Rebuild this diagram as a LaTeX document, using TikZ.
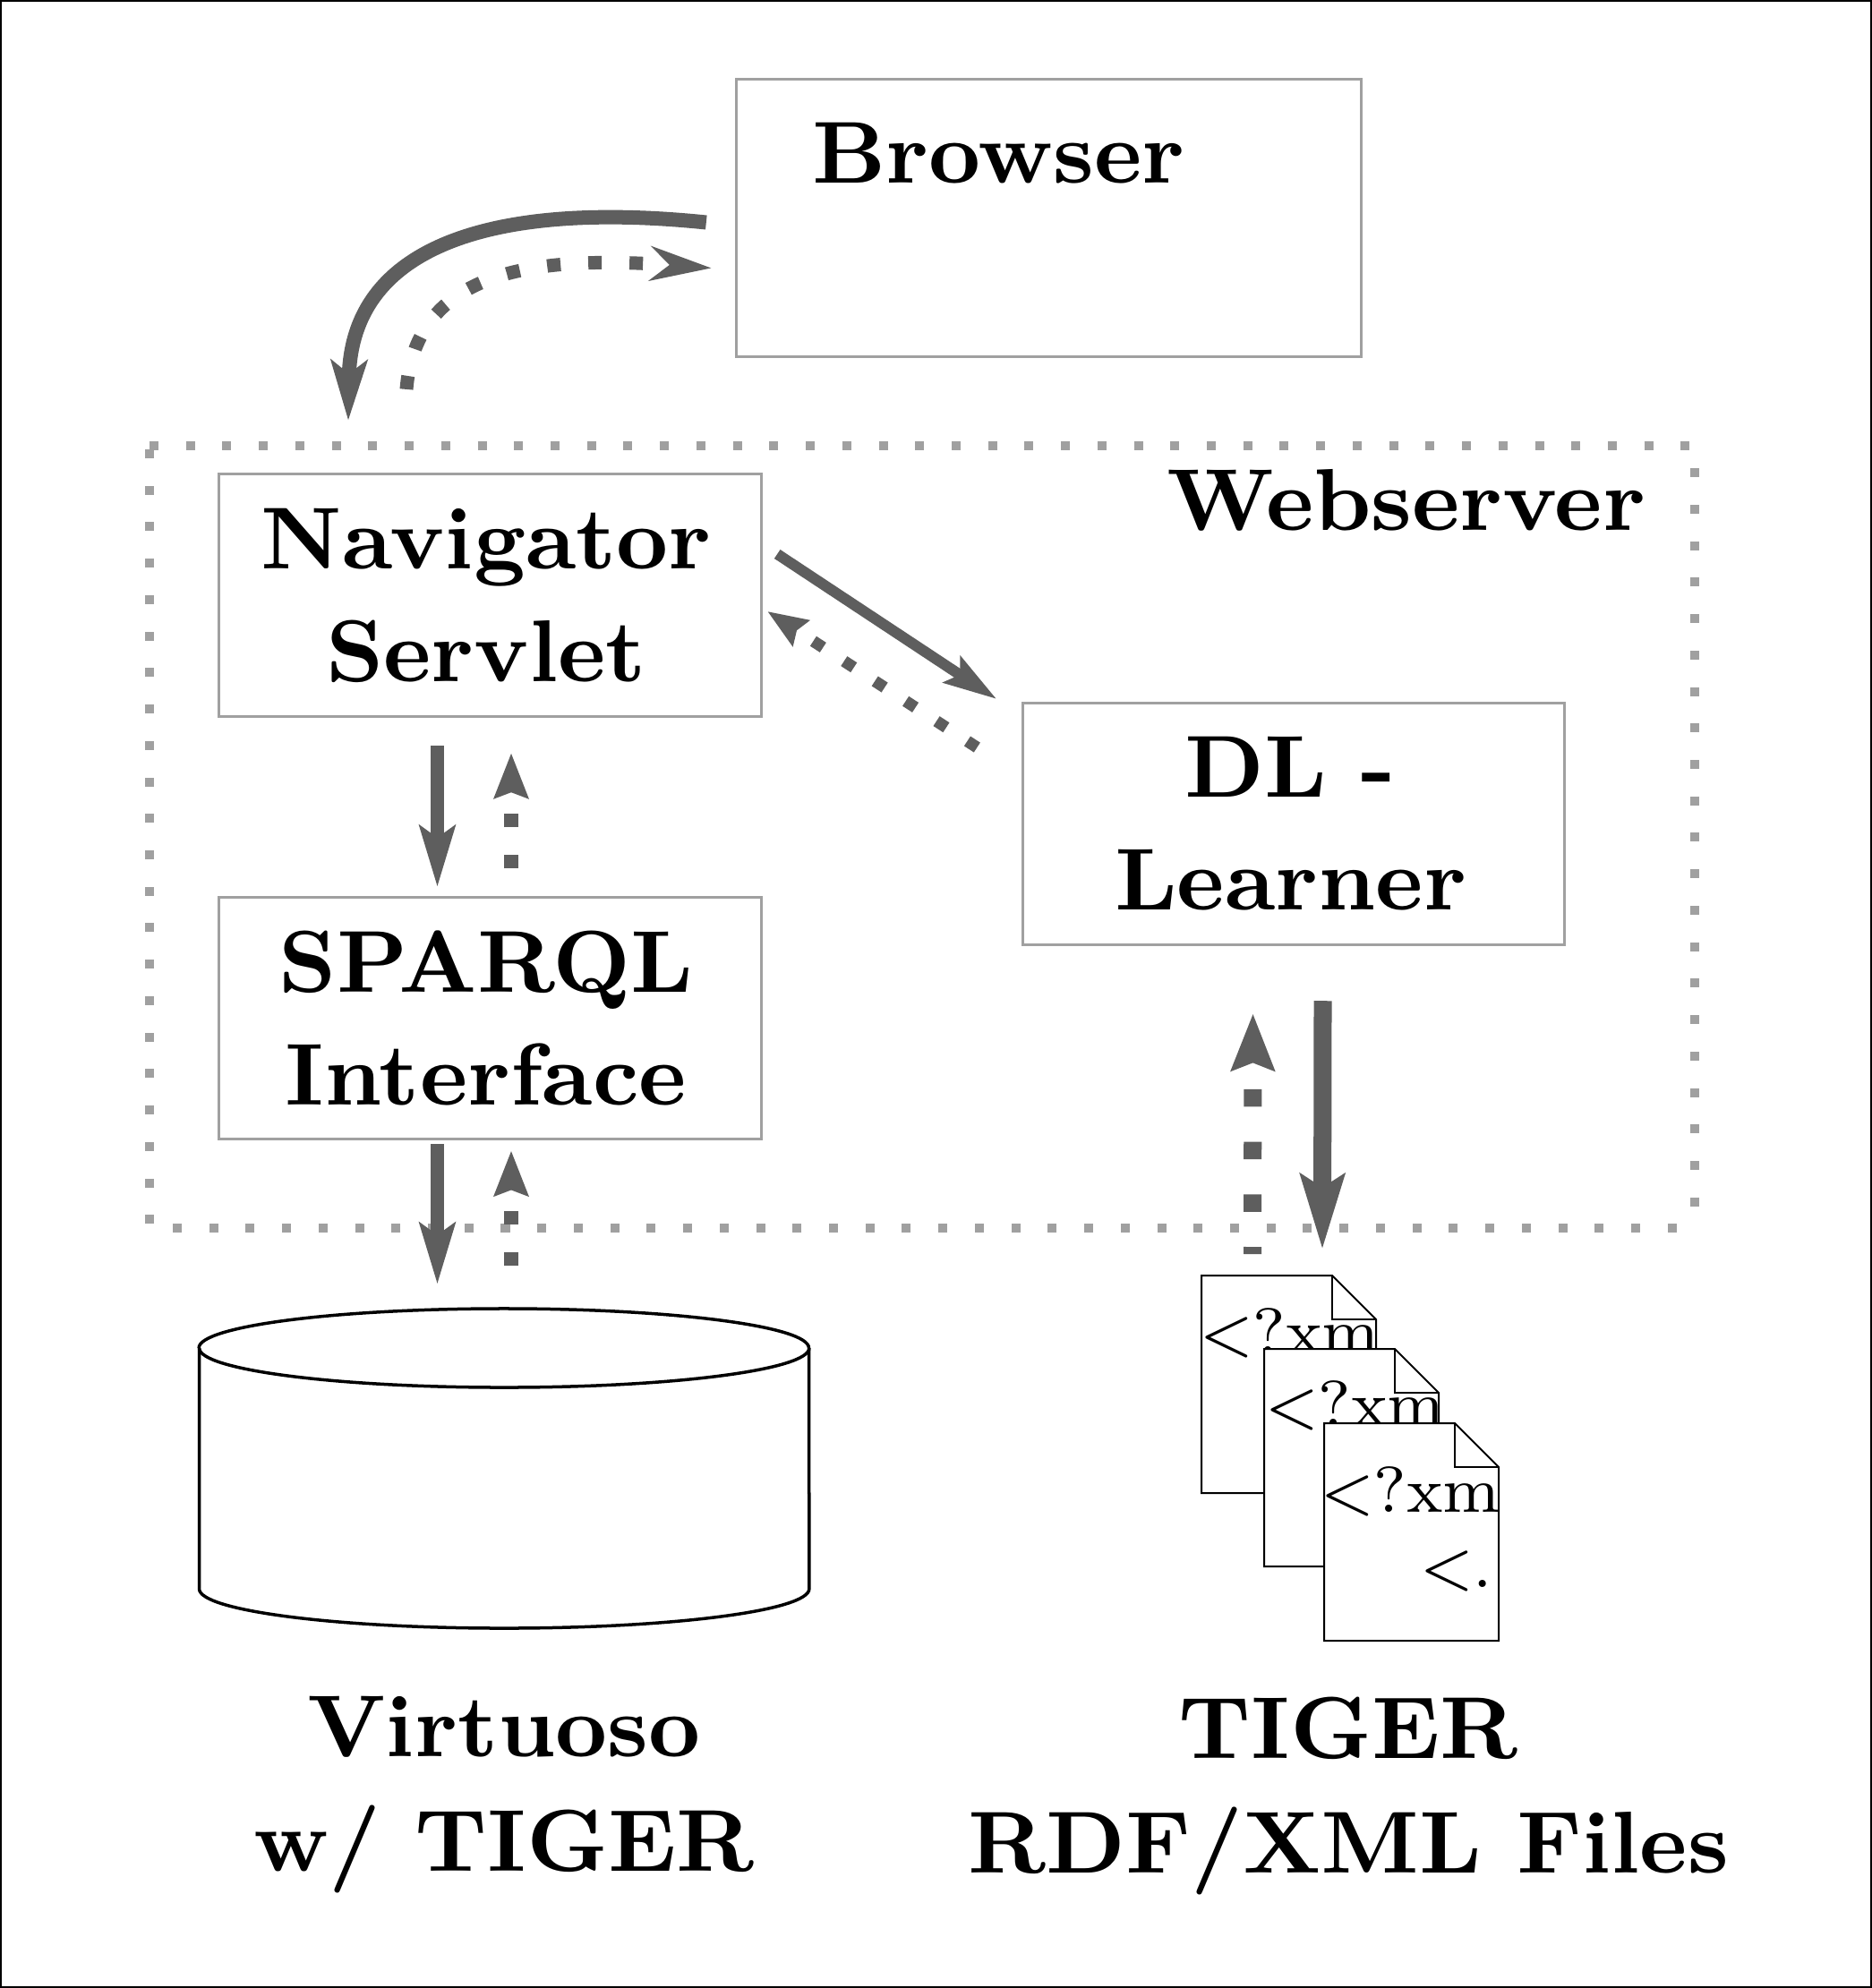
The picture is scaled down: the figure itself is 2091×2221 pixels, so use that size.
\documentclass[tikz,border=0pt]{standalone}
\usepackage{xcolor}
\usetikzlibrary{positioning}
\usetikzlibrary{arrows.meta}
\usetikzlibrary{calc}
\definecolor{boxgray}{HTML}{A0A0A0}
\definecolor{arrowgray}{HTML}{5E5E5E}

\begin{document}
\begin{tikzpicture}[x=0.01cm,y=-0.01cm,
    big label/.style={font=\fontsize{9}{11.55}\selectfont\bfseries,scale=3.1,align=center,inner sep=0pt,outer sep=0pt},
    main box/.style={rectangle,draw=boxgray,line width=0.03cm,inner sep=0pt,outer sep=0pt,minimum width=6.05cm,minimum height=2.7cm},
    small solid/.style={draw=arrowgray,line width=0.15cm,-{Stealth[length=0.68cm,width=0.39cm,inset=0.13cm]}},
    small dash/.style={draw=arrowgray,line width=0.16cm,dash pattern=on 0.15cm off 0.31cm,-{Stealth[length=0.5cm,width=0.37cm,inset=0.06cm]}},
    doc line/.style={draw=black,line width=0.02cm,fill=white},
    doc text/.style={font=\fontsize{8}{10}\selectfont,scale=2.57,inner sep=0pt,outer sep=0pt,anchor=base west}]
\useasboundingbox (0,0) rectangle (2091,2221);
\draw[black,line width=0.03cm] (0.5,0.5) rectangle (2090.5,2220.5);

\node[main box,minimum width=6.97cm,minimum height=3.1cm] (browser) at (1171.5,243.5) {};
\node[big label,anchor=base west] (browsertext) at (907,204) {Browser};

\node[main box] (nav) at (547.5,665) [label={[big label,xshift=-0.0145cm]center:Navigator\\Servlet}] {};
\node[main box] (sparql) [below=2.02cm of nav, label={[big label,xshift=-0.0145cm]center:SPARQL\\Interface}] {};
\node[main box] (dl) [right=2.92cm of nav, yshift=-2.55cm, label={[big label,xshift=-0.011cm]center:DL -\\Learner}] {};

% webserver frame
\coordinate (tl) at (167,498);
\coordinate (br) at (1893,1372);
\draw[boxgray,line width=0.1cm,dash pattern=on 0.1cm off 0.307cm] (tl) -| (br);
\draw[boxgray,line width=0.1cm,dash pattern=on 0.1cm off 0.307cm,dash phase=0.204cm] (br) -| (tl);
\node[big label,anchor=base east] (webserver) at (1838,592) {Webserver};

% database
\coordinate (dbtop) at (562.5,1462);
\draw[black,line width=0.035cm] (222.5,1506) -- (222.5,1775)
    arc[start angle=180,end angle=360,x radius=3.405cm,y radius=0.44cm] -- (903.5,1506)
    arc[start angle=0,end angle=180,x radius=3.405cm,y radius=0.44cm];
\draw[black,line width=0.035cm] (222.5,1506) arc[start angle=180,end angle=360,x radius=3.405cm,y radius=0.44cm];
\node[big label,anchor=base] (virtuoso) at (563,1962) {Virtuoso};
\node[big label,below=1.28cm of virtuoso.base,anchor=base] (wtiger) {w/ TIGER};

% xml files
\foreach \i/\x/\y/\tx/\ty in {1/1342/1425/-2/87, 2/1412/1507/1/86, 3/1479/1590/-4/99}
{
  \draw[doc line] (\x,\y) -- ++(146,0) -- ++(49,49) -- ++(0,194) -- ++(-195,0) -- cycle;
  \draw[doc line,fill=none] (\x+146,\y) -- ++(0,49) -- ++(49,0);
  \node[doc text] (xml\i) at (\x+\tx,\y+\ty) {<?xm};
}
\node[doc text] (xmlend) at (1586,1773) {<.};
\coordinate (docs) at (1440,1425);
\node[big label,anchor=base] (tiger) at (1506,1964) {TIGER};
\node[big label,below=1.28cm of tiger.base,anchor=base] (rdffiles) {RDF/XML Files};

% arrows
\draw[draw=arrowgray,line width=0.16cm,-{Stealth[length=0.67cm,width=0.4cm,inset=0.15cm]}]
  ([shift={(-34,5)}]browser.west) .. controls (560,225) and (392,270) .. ([shift={(-158.5,-60)}]nav.north);
\draw[draw=arrowgray,line width=0.15cm,dash pattern=on 0.15cm off 0.31cm,-{Stealth[length=0.68cm,width=0.38cm,inset=0.21cm]}]
  ([shift={(-93.5,-95)}]nav.north) .. controls (465,300) and (600,285) .. ([shift={(-28,56)}]browser.west);

\draw[small solid] ([shift={(-59,33)}]nav.south) -- ([shift={(-59,-11)}]sparql.north);
\draw[small dash] ([shift={(23.5,-32)}]sparql.north) -- ([shift={(23.5,41)}]nav.south);
\draw[small solid] ([shift={(-59,6)}]sparql.south) -- ([shift={(-74,-27)}]dbtop);
\draw[small dash] ([shift={(8.5,-48)}]dbtop) -- ([shift={(23.5,13)}]sparql.south);

\draw[draw=arrowgray,line width=0.12cm,-{Stealth[length=0.59cm,width=0.34cm,inset=0.1cm]}]
  ([shift={(18,-46)}]nav.east) -- ([shift={(-29,-4)}]dl.north west);
\draw[draw=arrowgray,line width=0.13cm,dash pattern=on 0.13cm off 0.28cm,-{Stealth[length=0.44cm,width=0.33cm,inset=0.05cm]}]
  ([shift={(-51,50)}]dl.north west) -- ([shift={(7,18)}]nav.east);

\draw[draw=arrowgray,line width=0.2cm,-{Stealth[length=0.83cm,width=0.48cm,inset=0.14cm]}]
  ([shift={(32.5,63)}]dl.south) -- ([shift={(37,-29)}]docs);
\draw[draw=arrowgray,line width=0.2cm,dash pattern=on 0.195cm off 0.392cm,dash phase=0.115cm,-{Stealth[length=0.63cm,width=0.47cm,inset=0.08cm]}]
  ([shift={(-41,-24)}]docs) -- ([shift={(-45.5,77)}]dl.south);
\end{tikzpicture}
\end{document}
